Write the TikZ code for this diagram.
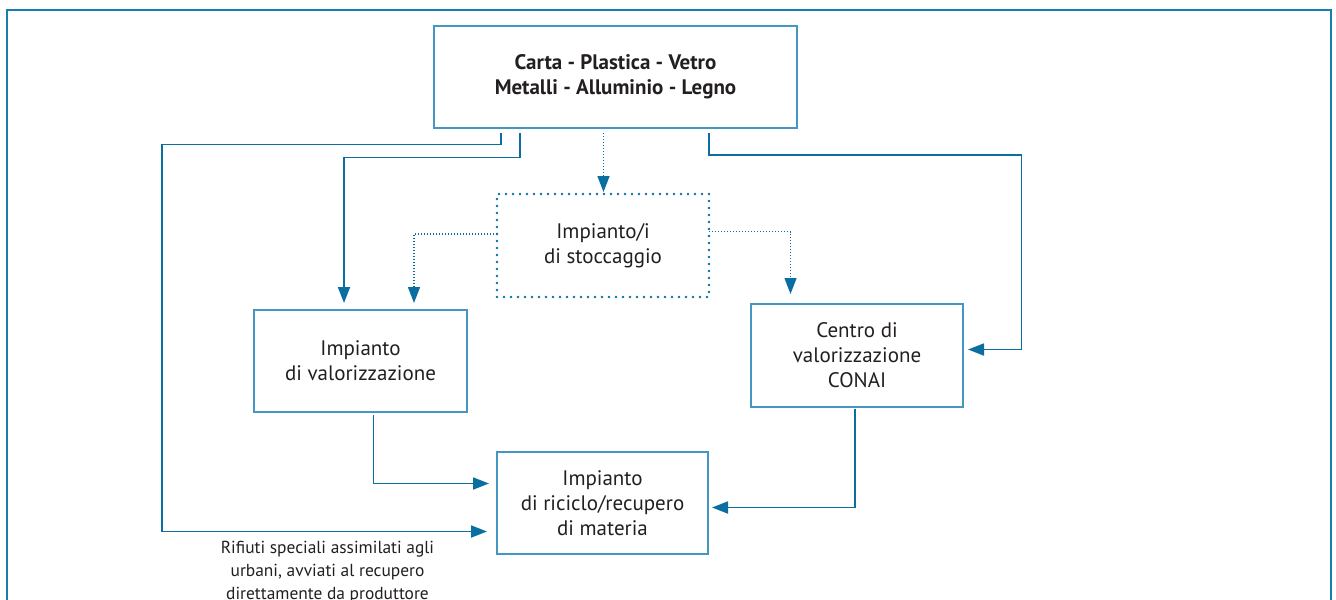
\documentclass[tikz,border=0pt]{standalone}
\usepackage{fontspec}
\setmainfont{PT Sans}
\usetikzlibrary{arrows.meta}
\definecolor{frameblue}{RGB}{25,125,175}
\definecolor{linkblue}{RGB}{10,110,160}
\definecolor{boxblue}{RGB}{70,150,195}
\definecolor{txt}{RGB}{35,31,32}
\tikzset{
  box/.style={draw=boxblue, line width=0.7pt, rectangle, inner sep=0pt, outer sep=0pt, align=center, text=txt, font=\fontsize{10.5}{12.5}\selectfont},
  dotbox/.style={box, draw=linkblue, line width=1.4pt, line cap=round, dash pattern=on 0pt off 3.5pt},
  conn/.style={draw=linkblue, line width=0.9pt, -{Triangle[length=8pt,width=6pt]}},
  dotconn/.style={draw=linkblue, line width=0.7pt, dash pattern=on 0.6pt off 0.9pt, -{Triangle[length=8pt,width=6pt]}},
}
\begin{document}
\begin{tikzpicture}[x=0.5pt,y=-0.5pt]
\useasboundingbox (0,0) rectangle (1336,599);
\begin{scope}
\clip (0,0) rectangle (1336,599);
\draw[frameblue, line width=1pt] (7,10) rectangle (1331,640);
\end{scope}
% boxes
\node[box, minimum width=181.5pt, minimum height=51pt, font=\bfseries\fontsize{10.5}{12.5}\selectfont] (top) at (615.5,77) {Carta - Plastica - Vetro\\Metalli - Alluminio - Legno};
\node[dotbox, minimum width=106pt, minimum height=51.5pt] (stor) at (603,245.5) {Impianto/i\\di stoccaggio};
\node[box, minimum width=106.5pt, minimum height=51pt] (val) at (360.5,361) {Impianto\\di valorizzazione};
\node[box, minimum width=106pt, minimum height=51.5pt] (con) at (857,355.5) {Centro di\\valorizzazione\\CONAI};
\node[box, minimum width=105.5pt, minimum height=51pt] (ric) at (602.5,503) {Impianto\\di riciclo/recupero\\di materia};
\node[align=center, text=txt, font=\fontsize{8.7}{11.5}\selectfont, anchor=base] (note) at (327.5,599) {Rifiuti speciali assimilati agli\\urbani, avviati al recupero\\direttamente da produttore};
% corner coordinates
\coordinate (c1) at (501,144.5);
\coordinate (c2) at (162,144.5);
\coordinate (c3) at (162,531.5);
\coordinate (d1) at (520,157.5);
\coordinate (d2) at (344,157.5);
\coordinate (e1) at (603.5,0);
\coordinate (f1) at (414,234);
\coordinate (g1) at (790.5,231.5);
\coordinate (h1) at (709,155);
\coordinate (h2) at (1021.5,155);
\coordinate (h3) at (1021.5,349.5);
\coordinate (i1) at (373.5,483.5);
\coordinate (j1) at (855,507.5);
% connectors
\draw[conn, shorten <=2.5pt, shorten >=5pt] (top.south -| c1) -- (c1) -- (c2) -- (c3) -- (ric.west |- c3);
\draw[conn, shorten <=2.5pt, shorten >=3.5pt] (top.south -| d1) -- (d1) -- (d2) -- (val.north -| d2);
\draw[dotconn, shorten <=2.5pt, shorten >=1pt] (top.south -| e1) -- (stor.north -| e1);
\draw[dotconn, shorten >=3.5pt] (stor.west |- f1) -- (f1) -- (val.north -| f1);
\draw[dotconn, shorten >=5pt] (stor.east |- g1) -- (g1) -- (con.north -| g1);
\draw[conn, shorten <=2.5pt, shorten >=2.5pt] (top.south -| h1) -- (h1) -- (h2) -- (h3) -- (con.east |- h3);
\draw[conn, shorten <=1.5pt, shorten >=4pt] (val.south -| i1) -- (i1) -- (ric.west |- i1);
\draw[conn, shorten <=1pt, shorten >=2pt] (con.south -| j1) -- (j1) -- (ric.east |- j1);
\end{tikzpicture}
\end{document}
